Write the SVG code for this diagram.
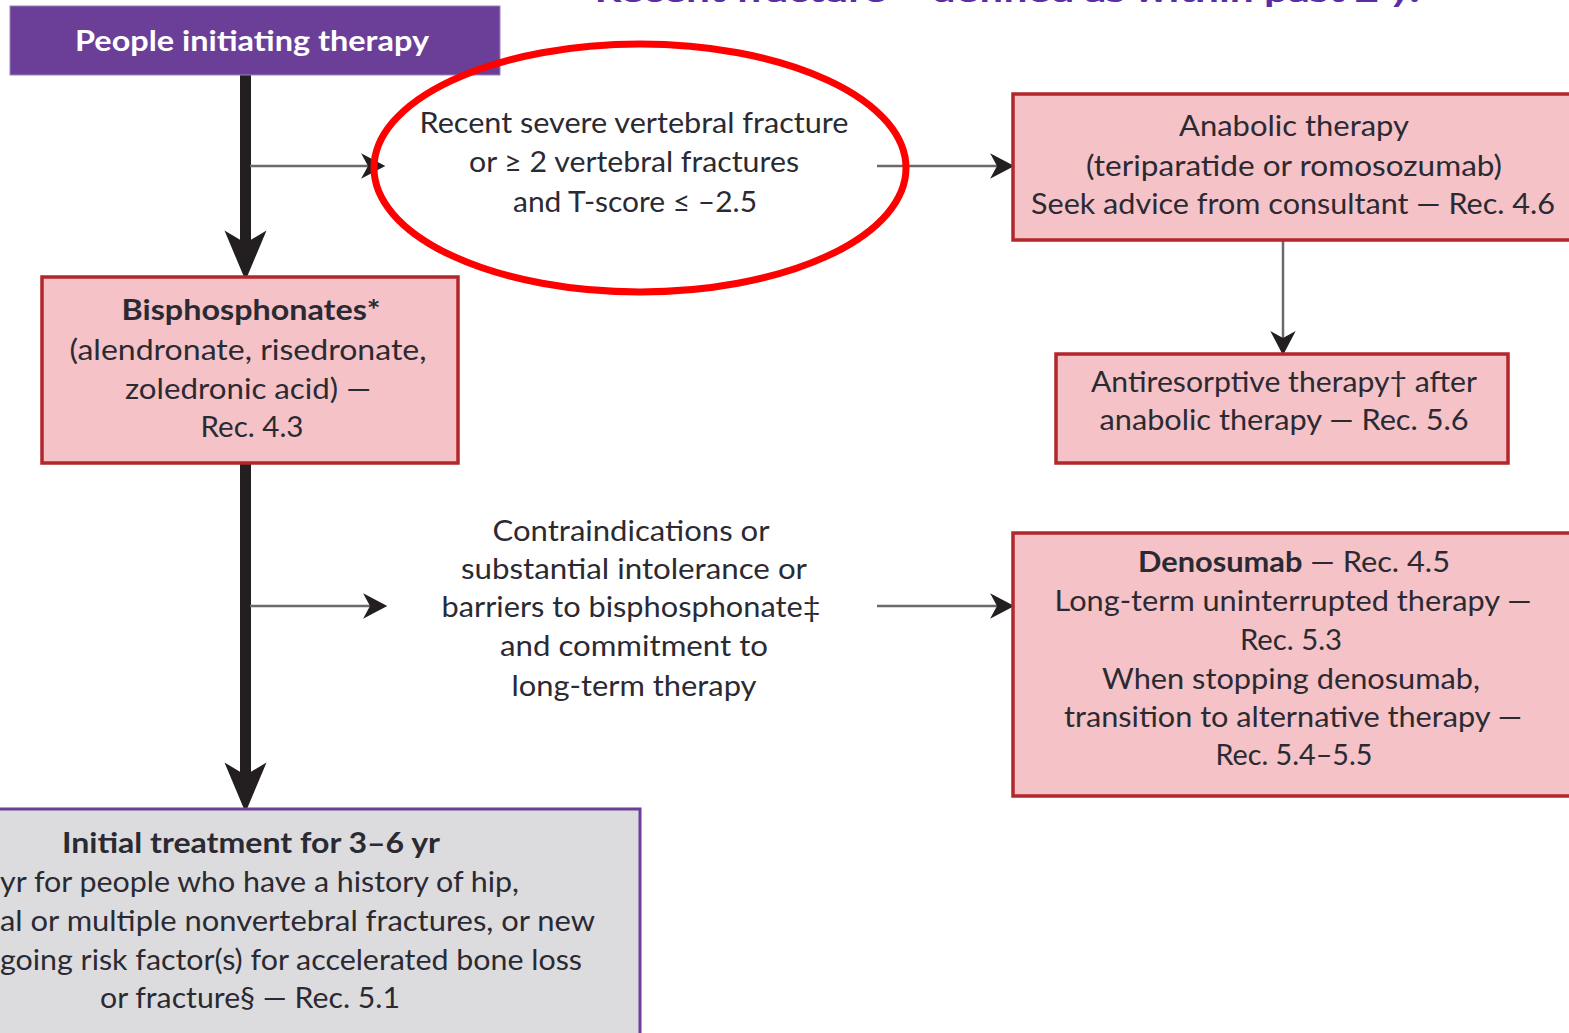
<svg xmlns="http://www.w3.org/2000/svg" width="1569" height="1033" viewBox="0 0 1569 1033">
  <style>
    .t { font-family: Lato, "Open Sans", "Liberation Sans", sans-serif; font-size: 29px; fill: #2b2a33; }
    .c { text-anchor: middle; }
    .b { font-weight: bold; }
    .pink { fill: #f4c2c7; stroke: #b3262c; stroke-width: 3.5; }
    .thick { stroke: #231f20; stroke-width: 11; fill: none; }
    .thin { stroke: #6a6a6a; stroke-width: 2.5; fill: none; }
  </style>
  <defs>
    <marker id="bigHead" markerUnits="userSpaceOnUse" markerWidth="60" markerHeight="50" viewBox="-14 -22 50 44" refX="0" refY="0" orient="auto">
      <path d="M33,0 L-11,-18.5 L0,0 L-11,18.5 Z" fill="#231f20"/>
    </marker>
    <marker id="smallHead" markerUnits="userSpaceOnUse" markerWidth="30" markerHeight="30" viewBox="-8 -13 26 26" refX="0" refY="0" orient="auto">
      <path d="M15,0 L-6,-11 L0,0 L-6,11 Z" fill="#231f20"/>
    </marker>
  </defs>

  <rect width="1569" height="1033" fill="#ffffff"/>

  <!-- heading running off the top edge -->
  <text class="t b c" x="1007" y="2" font-size="36" style="fill:#5a2ca6" textLength="825" lengthAdjust="spacingAndGlyphs">Recent fracture – defined as within past 2 y.</text>

  <g id="connectors">
    <line class="thick" x1="245.5" y1="75" x2="245.5" y2="243" marker-end="url(#bigHead)"/>
    <line class="thick" x1="245.5" y1="463" x2="245.5" y2="775" marker-end="url(#bigHead)"/>
    <line class="thin" x1="250" y1="166" x2="368" y2="166" marker-end="url(#smallHead)"/>
    <line class="thin" x1="250" y1="606" x2="370" y2="606" marker-end="url(#smallHead)"/>
    <line class="thin" x1="877" y1="166" x2="997" y2="166" marker-end="url(#smallHead)"/>
    <line class="thin" x1="877" y1="606" x2="997" y2="606" marker-end="url(#smallHead)"/>
    <line class="thin" x1="1283" y1="240" x2="1283" y2="338" marker-end="url(#smallHead)"/>
  </g>

  <g id="start">
    <rect x="10" y="6" width="490" height="69" fill="#6b3f98" stroke="#9c80c0" stroke-width="1"/>
    <text class="t b c" x="252" y="51" font-size="31" style="fill:#ffffff" textLength="354" lengthAdjust="spacingAndGlyphs">People initiating therapy</text>
  </g>

  <g id="condition-vertebral">
    <text class="t c" x="634" y="133" textLength="429" lengthAdjust="spacingAndGlyphs">Recent severe vertebral fracture</text>
    <text class="t c" x="634" y="172" textLength="330" lengthAdjust="spacingAndGlyphs">or ≥ 2 vertebral fractures</text>
    <text class="t c" x="635" y="212" textLength="244" lengthAdjust="spacingAndGlyphs">and T-score ≤ –2.5</text>
    <ellipse cx="640" cy="168" rx="266" ry="124" fill="none" stroke="#ff0000" stroke-width="7"/>
  </g>

  <g id="anabolic">
    <rect class="pink" x="1013" y="94" width="570" height="146"/>
    <text class="t c" x="1294" y="136" textLength="230" lengthAdjust="spacingAndGlyphs">Anabolic therapy</text>
    <text class="t c" x="1294" y="176" textLength="416" lengthAdjust="spacingAndGlyphs">(teriparatide or romosozumab)</text>
    <text class="t c" x="1293" y="214" textLength="524" lengthAdjust="spacingAndGlyphs">Seek advice from consultant — Rec. 4.6</text>
  </g>

  <g id="antiresorptive">
    <rect class="pink" x="1056" y="354" width="452" height="109"/>
    <text class="t c" x="1284" y="392" textLength="386" lengthAdjust="spacingAndGlyphs">Antiresorptive therapy† after</text>
    <text class="t c" x="1284" y="430" textLength="369" lengthAdjust="spacingAndGlyphs">anabolic therapy — Rec. 5.6</text>
  </g>

  <g id="bisphosphonates">
    <rect class="pink" x="42" y="277" width="416" height="186"/>
    <text class="t b c" x="251" y="320" textLength="259" lengthAdjust="spacingAndGlyphs">Bisphosphonates*</text>
    <text class="t c" x="248" y="360" textLength="357" lengthAdjust="spacingAndGlyphs">(alendronate, risedronate,</text>
    <text class="t c" x="248" y="399" textLength="246" lengthAdjust="spacingAndGlyphs">zoledronic acid) —</text>
    <text class="t c" x="252" y="437" textLength="103" lengthAdjust="spacingAndGlyphs">Rec. 4.3</text>
  </g>

  <g id="condition-intolerance">
    <text class="t c" x="631" y="541" textLength="277" lengthAdjust="spacingAndGlyphs">Contraindications or</text>
    <text class="t c" x="634" y="579" textLength="346" lengthAdjust="spacingAndGlyphs">substantial intolerance or</text>
    <text class="t c" x="631" y="617" textLength="379" lengthAdjust="spacingAndGlyphs">barriers to bisphosphonate‡</text>
    <text class="t c" x="634" y="656" textLength="268" lengthAdjust="spacingAndGlyphs">and commitment to</text>
    <text class="t c" x="634" y="696" textLength="245" lengthAdjust="spacingAndGlyphs">long-term therapy</text>
  </g>

  <g id="denosumab">
    <rect class="pink" x="1013" y="533" width="570" height="263"/>
    <text class="t c" x="1294" y="572" textLength="312" lengthAdjust="spacingAndGlyphs"><tspan class="b">Denosumab</tspan> — Rec. 4.5</text>
    <text class="t c" x="1293" y="611" textLength="477" lengthAdjust="spacingAndGlyphs">Long-term uninterrupted therapy —</text>
    <text class="t c" x="1291" y="650" textLength="102" lengthAdjust="spacingAndGlyphs">Rec. 5.3</text>
    <text class="t c" x="1291" y="689" textLength="378" lengthAdjust="spacingAndGlyphs">When stopping denosumab,</text>
    <text class="t c" x="1293" y="727" textLength="458" lengthAdjust="spacingAndGlyphs">transition to alternative therapy —</text>
    <text class="t c" x="1294" y="765" textLength="157" lengthAdjust="spacingAndGlyphs">Rec. 5.4–5.5</text>
  </g>

  <g id="initial-treatment">
    <rect x="-10" y="809" width="650" height="240" fill="#dcdcde" stroke="#6b3f98" stroke-width="3"/>
    <text class="t b c" x="251" y="853" textLength="378" lengthAdjust="spacingAndGlyphs">Initial treatment for 3–6 yr</text>
    <text class="t" x="0" y="892" textLength="519" lengthAdjust="spacingAndGlyphs">yr for people who have a history of hip,</text>
    <text class="t" x="0" y="931" textLength="595" lengthAdjust="spacingAndGlyphs">al or multiple nonvertebral fractures, or new</text>
    <text class="t" x="0" y="970" textLength="582" lengthAdjust="spacingAndGlyphs">going risk factor(s) for accelerated bone loss</text>
    <text class="t c" x="250" y="1008" textLength="300" lengthAdjust="spacingAndGlyphs">or fracture§ — Rec. 5.1</text>
  </g>
</svg>
